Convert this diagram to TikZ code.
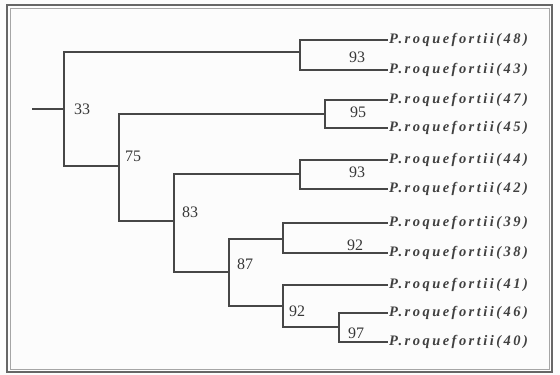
\documentclass[tikz,border=0pt]{standalone}
\usepackage{fontspec}
\setmainfont{Liberation Serif}
\newfontfamily\leaffont[LetterSpace=17]{Liberation Serif}
\begin{document}
\begin{tikzpicture}[x=1pt,y=-1pt,
  br/.style={draw=black!72,line width=1.3pt},
  leaf/.style={anchor=west,inner sep=1pt,font=\leaffont\fontsize{14.5}{16}\selectfont\bfseries\itshape,text=black!75},
  boot/.style={inner sep=0pt,font=\fontsize{16}{18}\selectfont,text=black!78}]
\useasboundingbox (0,0) rectangle (560,375);
\fill[black!1] (0,0) rectangle (560,375);
\draw[black!60,line width=2.6pt] (7,5) rectangle (552,372);
\draw[black!35,line width=0.6pt] (10,8) rectangle (549,369);
% internal nodes
\coordinate (root) at (32,109);
\coordinate (n33) at (64,109);
\coordinate (n93a) at (300,52);
\coordinate (n75) at (119,166);
\coordinate (n95) at (325,114);
\coordinate (n83) at (174,221);
\coordinate (n93b) at (300,174);
\coordinate (n87) at (229,272);
\coordinate (n92a) at (283,239);
\coordinate (n92b) at (283,306);
\coordinate (n97) at (339,327);
% leaves
\node[leaf] (l48) at (388,40) {P.roquefortii(48)};
\node[leaf] (l43) at (388,70) {P.roquefortii(43)};
\node[leaf] (l47) at (388,100) {P.roquefortii(47)};
\node[leaf] (l45) at (388,128) {P.roquefortii(45)};
\node[leaf] (l44) at (388,160) {P.roquefortii(44)};
\node[leaf] (l42) at (388,189) {P.roquefortii(42)};
\node[leaf] (l39) at (388,223) {P.roquefortii(39)};
\node[leaf] (l38) at (388,253) {P.roquefortii(38)};
\node[leaf] (l41) at (388,285) {P.roquefortii(41)};
\node[leaf] (l46) at (388,313) {P.roquefortii(46)};
\node[leaf] (l40) at (388,342) {P.roquefortii(40)};
% branches
\draw[br] (root) -- (n33);
\draw[br] (n33) |- (n93a);
\draw[br] (n33) |- (n75);
\draw[br] (n93a) |- (l48.west);
\draw[br] (n93a) |- (l43.west);
\draw[br] (n75) |- (n95);
\draw[br] (n75) |- (n83);
\draw[br] (n95) |- (l47.west);
\draw[br] (n95) |- (l45.west);
\draw[br] (n83) |- (n93b);
\draw[br] (n83) |- (n87);
\draw[br] (n93b) |- (l44.west);
\draw[br] (n93b) |- (l42.west);
\draw[br] (n87) |- (n92a);
\draw[br] (n87) |- (n92b);
\draw[br] (n92a) |- (l39.west);
\draw[br] (n92a) |- (l38.west);
\draw[br] (n92b) |- (l41.west);
\draw[br] (n92b) |- (n97);
\draw[br] (n97) |- (l46.west);
\draw[br] (n97) |- (l40.west);
% bootstrap values
\node[boot] (b33) at (82,109) {33};
\node[boot] (b75) at (133,156) {75};
\node[boot] (b83) at (190,212) {83};
\node[boot] (b87) at (245,264) {87};
\node[boot] (b93a) at (357,57) {93};
\node[boot] (b95) at (358,112) {95};
\node[boot] (b93b) at (357,172) {93};
\node[boot] (b92a) at (355,245) {92};
\node[boot] (b92b) at (297,311) {92};
\node[boot] (b97) at (356,333) {97};
\end{tikzpicture}
\end{document}
